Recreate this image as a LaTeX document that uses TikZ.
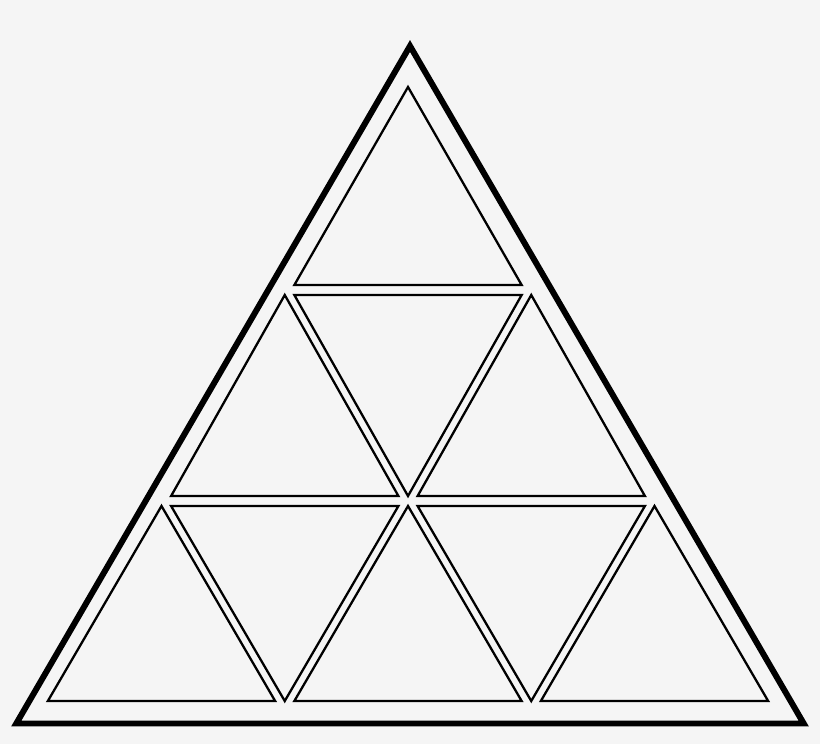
\documentclass[tikz,border=0pt]{standalone}
\definecolor{paper}{RGB}{245,245,245}
\tikzset{cell/.style={black,line width=0.65pt}}
\begin{document}
\begin{tikzpicture}
\fill[paper] (0,0) rectangle (8.2,7.44);

\draw[black,line width=1.7pt] (4.10,6.98) -- (0.163,0.205) -- (8.037,0.205) -- cycle;

\draw[cell] (4.08,6.57) -- (2.9435,4.59) -- (5.2165,4.59) -- cycle;

\draw[cell] (2.8475,4.49) -- (1.711,2.48) -- (3.984,2.48) -- cycle;
\draw[cell] (2.9435,4.49) -- (5.2165,4.49) -- (4.08,2.48) -- cycle;
\draw[cell] (5.3125,4.49) -- (4.176,2.48) -- (6.449,2.48) -- cycle;

\draw[cell] (1.615,2.38) -- (0.4785,0.43) -- (2.7515,0.43) -- cycle;
\draw[cell] (1.711,2.38) -- (3.984,2.38) -- (2.8475,0.43) -- cycle;
\draw[cell] (4.08,2.38) -- (2.9435,0.43) -- (5.2165,0.43) -- cycle;
\draw[cell] (4.176,2.38) -- (6.449,2.38) -- (5.3125,0.43) -- cycle;
\draw[cell] (6.545,2.38) -- (5.4085,0.43) -- (7.6815,0.43) -- cycle;
\end{tikzpicture}
\end{document}
